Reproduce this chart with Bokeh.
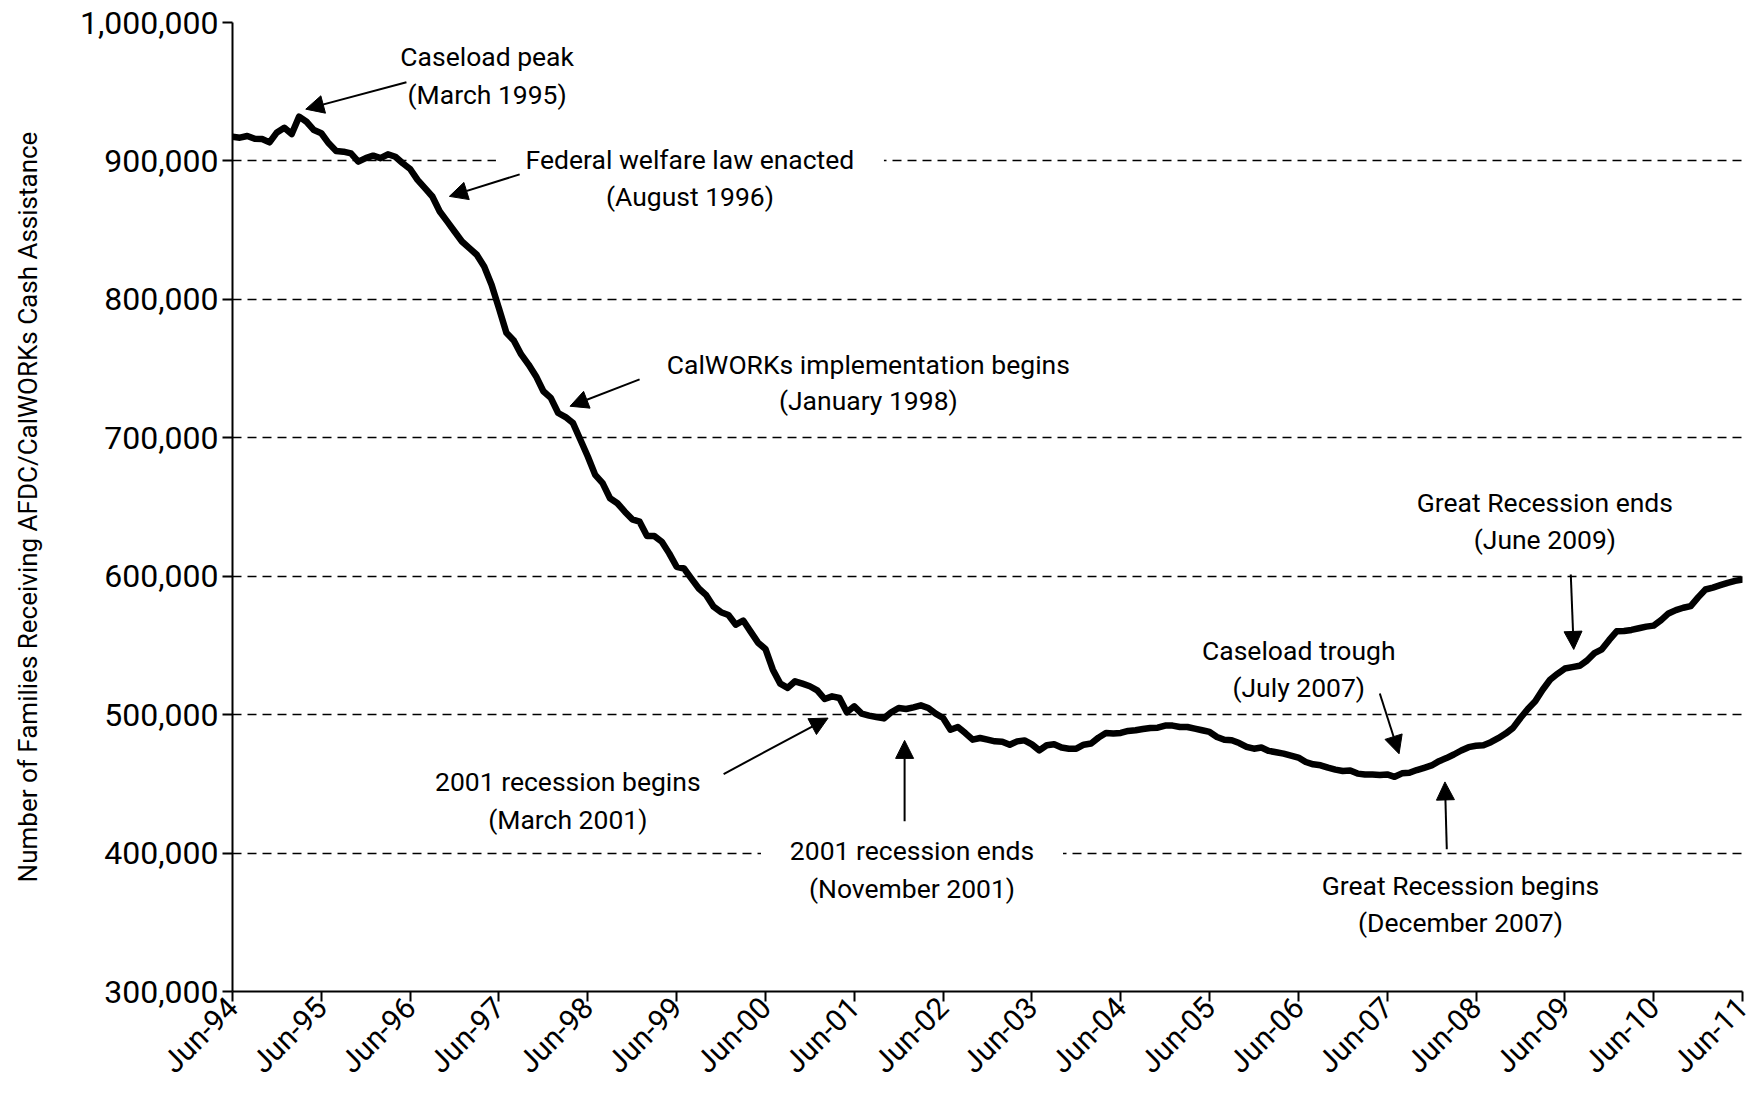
import math
from bokeh.plotting import figure
from bokeh.models import (FixedTicker, NumeralTickFormatter, Label, Arrow,
                          NormalHead, Range1d, ColumnDataSource)
from bokeh.embed import file_html
from bokeh.resources import INLINE

# ---------------- data (thousands of families, monthly Jun-1994 .. Jun-2011) --------------
tick_labels = ["Jun-94", "Jun-95", "Jun-96", "Jun-97", "Jun-98", "Jun-99", "Jun-00",
               "Jun-01", "Jun-02", "Jun-03", "Jun-04", "Jun-05", "Jun-06", "Jun-07",
               "Jun-08", "Jun-09", "Jun-10", "Jun-11"]
y_ticks = [300000, 400000, 500000, 600000, 700000, 800000, 900000, 1000000]

cases_1994 = [917.5, 916.8, 918.0, 916.0, 915.8, 913.4, 920.6]  # Jun-Dec
cases_1995 = [924.0, 919.4, 932.0, 928.3, 922.3, 920.0, 912.7, 907.2, 906.7, 905.5, 899.5, 902.0]
cases_1996 = [903.8, 902.0, 904.8, 903.0, 898.3, 894.2, 886.3, 880.3, 874.3, 863.5, 856.3, 849.0]
cases_1997 = [841.8, 837.0, 832.2, 823.8, 810.6, 793.5, 775.9, 770.3, 760.2, 752.9, 744.5, 733.6]
cases_1998 = [728.8, 717.9, 715.0, 710.6, 698.6, 686.5, 673.2, 667.2, 656.3, 652.7, 646.6, 641.1]
cases_1999 = [639.4, 629.0, 629.0, 624.9, 616.5, 606.8, 605.6, 598.3, 591.1, 586.3, 578.0, 574.0]
cases_2000 = [572.0, 565.0, 568.0, 560.0, 552.0, 547.5, 532.5, 522.4, 519.3, 524.1, 522.4, 520.5]
cases_2001 = [517.6, 511.3, 513.2, 512.0, 501.7, 506.0, 500.7, 499.3, 498.3, 497.3, 501.7, 504.8]
cases_2002 = [504.1, 505.3, 506.7, 504.8, 500.7, 497.6, 489.1, 491.1, 486.7, 481.9, 483.1, 481.9]
cases_2003 = [480.7, 480.5, 478.3, 480.7, 481.4, 478.5, 474.2, 477.9, 478.6, 476.2, 475.4, 475.4]
cases_2004 = [478.3, 479.1, 483.4, 486.8, 486.3, 486.8, 488.2, 488.7, 489.6, 490.4, 490.6, 492.1]
cases_2005 = [492.1, 491.1, 491.1, 489.9, 488.7, 487.5, 483.9, 481.9, 481.5, 479.5, 476.7, 475.4]
cases_2006 = [476.2, 473.8, 472.8, 471.8, 470.4, 469.0, 465.8, 464.1, 463.4, 461.7, 460.3, 459.3]
cases_2007 = [459.6, 457.4, 456.7, 456.7, 456.4, 456.8, 455.1, 457.6, 458.0, 460.0, 461.6, 463.3]
cases_2008 = [466.4, 468.6, 471.2, 474.1, 476.5, 477.5, 477.9, 480.1, 483.0, 486.3, 490.4, 497.6]
cases_2009 = [504.1, 509.6, 518.0, 525.2, 529.5, 533.3, 534.3, 535.3, 539.1, 544.4, 547.2, 554.0]
cases_2010 = [560.2, 560.4, 561.2, 562.4, 563.6, 564.3, 568.3, 573.1, 575.5, 577.2, 578.4, 584.7]
cases_2011 = [590.4, 591.8, 593.5, 595.2, 596.6, 597.6]  # Jan-Jun

all_k = (cases_1994 + cases_1995 + cases_1996 + cases_1997 + cases_1998 + cases_1999 +
         cases_2000 + cases_2001 + cases_2002 + cases_2003 + cases_2004 + cases_2005 +
         cases_2006 + cases_2007 + cases_2008 + cases_2009 + cases_2010 + cases_2011)
families = [v * 1000 for v in all_k]
month_index = list(range(len(families)))
tick_months = [12 * i for i in range(len(tick_labels))]

FONT = "Roboto"

p = figure(width=1758, height=1095, output_backend="svg", toolbar_location=None,
           x_range=Range1d(0, month_index[-1]), y_range=Range1d(y_ticks[0], y_ticks[-1]),
           min_border_left=232, min_border_right=16, min_border_top=22,
           min_border_bottom=104, background_fill_color="white", border_fill_color="white")
p.outline_line_color = None

# axes
p.xaxis.ticker = FixedTicker(ticks=tick_months)
p.xaxis.major_label_overrides = {m: t for m, t in zip(tick_months, tick_labels)}
p.xaxis.major_label_orientation = math.pi / 4
p.yaxis.ticker = FixedTicker(ticks=y_ticks)
p.yaxis.formatter = NumeralTickFormatter(format="0,0")
for ax in (p.xaxis, p.yaxis):
    ax.axis_line_width = 2
    ax.axis_line_color = "black"
    ax.major_tick_line_width = 2
    ax.major_tick_line_color = "black"
    ax.major_tick_in = 0
    ax.major_tick_out = 10
    ax.minor_tick_line_color = None
    ax.major_label_text_font = FONT
    ax.major_label_text_color = "black"
p.yaxis.major_label_text_font_size = "32px"
p.yaxis.major_label_standoff = 4
p.xaxis.major_label_text_font_size = "30px"
p.xaxis.major_label_standoff = 1
p.yaxis.axis_label = "Number of Families Receiving AFDC/CalWORKs Cash Assistance"
p.yaxis.axis_label_text_font = FONT
p.yaxis.axis_label_text_font_size = "26px"
p.yaxis.axis_label_text_font_style = "normal"
p.yaxis.axis_label_text_color = "black"
p.yaxis.axis_label_standoff = 34

p.xgrid.grid_line_color = None
p.ygrid.grid_line_color = "black"
p.ygrid.grid_line_width = 1.3
p.ygrid.grid_line_dash = "9 6"

# white gaps in gridlines behind two annotation texts
p.rect(x=[61.8, 91.8], y=[900000, 400000], width=[388, 302], height=[10, 10],
       width_units="screen", height_units="screen", fill_color="white", line_color=None)

# caseload line
src = ColumnDataSource(dict(m=month_index, v=families))
p.line("m", "v", source=src, line_width=6.5, line_color="black", line_join="round",
       line_cap="round")


def note(x, y, text):
    p.add_layout(Label(x=x, y=y, text=text, text_align="center", text_baseline="middle",
                       text_font=FONT, text_font_size="26.5px", text_color="black"))


def arrow(x0, y0, x1, y1):
    p.add_layout(Arrow(end=NormalHead(size=18, fill_color="black", line_color="black",
                                      line_width=1),
                       x_start=x0, y_start=y0, x_end=x1, y_end=y1,
                       line_width=2, line_color="black"))


note(34.4, 975600, "Caseload peak")
note(34.4, 948100, "(March 1995)")
arrow(23.5, 956900, 9.9, 937400)

note(61.8, 901200, "Federal welfare law enacted")
note(61.8, 874400, "(August 1996)")
arrow(38.8, 890300, 29.3, 874400)

note(85.9, 752700, "CalWORKs implementation begins")
note(85.9, 727000, "(January 1998)")
arrow(55.0, 742200, 45.6, 722800)

note(45.3, 451400, "2001 recession begins")
note(45.3, 424600, "(March 2001)")
arrow(66.35, 457100, 80.46, 497500)

note(91.8, 402000, "2001 recession ends")
note(91.8, 374400, "(November 2001)")
arrow(90.8, 423000, 90.8, 481400)

note(144.05, 546400, "Caseload trough")
note(144.05, 519700, "(July 2007)")
arrow(155.0, 515300, 157.6, 471700)

note(165.9, 376900, "Great Recession begins")
note(165.9, 350100, "(December 2007)")
arrow(164.05, 402800, 163.8, 451400)

note(177.3, 653100, "Great Recession ends")
note(177.3, 626400, "(June 2009)")
arrow(180.8, 601300, 181.2, 547100)

open("out.html", "w").write(file_html(p, INLINE))
